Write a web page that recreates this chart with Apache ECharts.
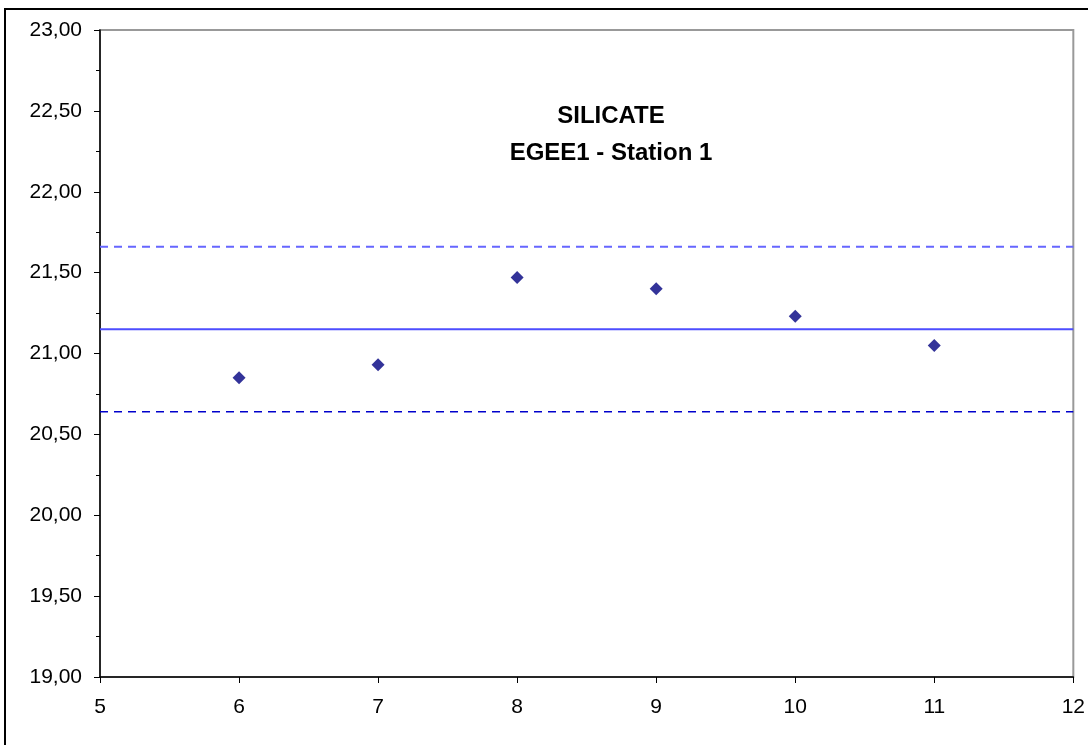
<!DOCTYPE html>
<html>
<head>
<meta charset="utf-8">
<script src="https://cdn.jsdelivr.net/npm/echarts@6/dist/echarts.min.js"></script>
<style>
html,body{margin:0;padding:0;background:#fff;}
#chart{width:1088px;height:745px;}
</style>
</head>
<body>
<div id="chart"></div>
<script>
// Data
const xValues = [6, 7, 8, 9, 10, 11];
const yValues = [20.85, 20.93, 21.47, 21.40, 21.23, 21.05];
const meanValue = 21.15;
const upperLimit = 21.66;
const lowerLimit = 20.64;
const xRange = [5, 12];
const yRange = [19, 23];
const titleLines = ['SILICATE', 'EGEE1 - Station 1'];

const font = 'Liberation Sans, Arial, sans-serif';
const chart = echarts.init(document.getElementById('chart'), null, {renderer: 'canvas'});

function hLine(v) { return xRange.map(x => [x, v]); }

chart.setOption({
  animation: false,
  backgroundColor: '#fff',
  grid: {left: 100, right: 14, top: 30, bottom: 68, show: true, borderColor: '#999', borderWidth: 2, backgroundColor: 'transparent'},
  xAxis: {
    type: 'value', min: xRange[0], max: xRange[1], interval: 1,
    axisLine: {show: true, onZero: false, lineStyle: {color: '#000', width: 1.5}},
    axisTick: {show: true, inside: false, length: 6, lineStyle: {color: '#000', width: 1}},
    axisLabel: {color: '#000', fontSize: 21, fontFamily: font, margin: 20},
    splitLine: {show: false}
  },
  yAxis: {
    type: 'value', min: yRange[0], max: yRange[1], interval: 0.5,
    axisLine: {show: true, onZero: false, lineStyle: {color: '#000', width: 1.5}},
    axisTick: {show: true, inside: false, length: 6, lineStyle: {color: '#000', width: 1}},
    minorTick: {show: true, splitNumber: 2, length: 4, lineStyle: {color: '#000', width: 1}},
    axisLabel: {color: '#000', fontSize: 21, fontFamily: font, margin: 18,
      formatter: v => v.toFixed(2).replace('.', ',')},
    splitLine: {show: false}
  },
  series: [
    {type: 'line', data: hLine(upperLimit), symbol: 'none', silent: true,
      lineStyle: {color: '#6666ff', width: 2, type: [8, 6]}},
    {type: 'line', data: hLine(meanValue), symbol: 'none', silent: true,
      lineStyle: {color: '#4d4dff', width: 2, type: 'solid'}},
    {type: 'line', data: hLine(lowerLimit), symbol: 'none', silent: true,
      lineStyle: {color: '#0000cc', width: 1.5, type: [8, 6]}},
    {type: 'scatter', data: xValues.map((x, i) => [x, yValues[i]]),
      symbol: 'diamond', symbolSize: 13, itemStyle: {color: '#000080'}, z: 5}
  ],
  graphic: [
    {type: 'rect', shape: {x: 5, y: 9, width: 1200, height: 900}, style: {fill: 'none', stroke: '#000', lineWidth: 2}, silent: true},
    {type: 'text', x: 611, y: 135, style: {text: titleLines.join('\n'), fill: '#000',
      font: 'bold 24px ' + font, textAlign: 'center', textVerticalAlign: 'middle', lineHeight: 37}}
  ]
});
</script>
</body>
</html>
